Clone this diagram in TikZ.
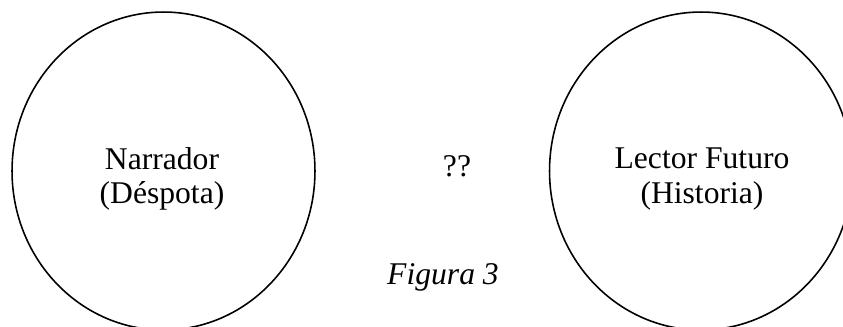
\documentclass[tikz,border=0pt]{standalone}
\usepackage{fontspec}
\setmainfont{Liberation Serif}
\usetikzlibrary{shapes.geometric}
\begin{document}
\begin{tikzpicture}[x=0.02cm, y=-0.02cm, every node/.style={font=\fontsize{18}{19.4}\selectfont}]
  \tikzset{oval/.style={draw, line width=0.9pt, ellipse, inner sep=0pt, minimum width=6.06cm, minimum height=6.36cm}}
  \clip (0,0) rectangle (843,326);
  \node[oval] (narrador) at (163.5,171) {};
  \node[oval] (lector) at (701,171) {};
  \node[align=center] (narradortxt) at (162,179) {Narrador\\(Déspota)};
  \node[align=center] (lectortxt) at (702,179) {Lector Futuro\\(Historia)};
  \node (dudas) at (457,166) {??};
  \node (figura) at (443,277) {\itshape Figura 3};
\end{tikzpicture}
\end{document}
